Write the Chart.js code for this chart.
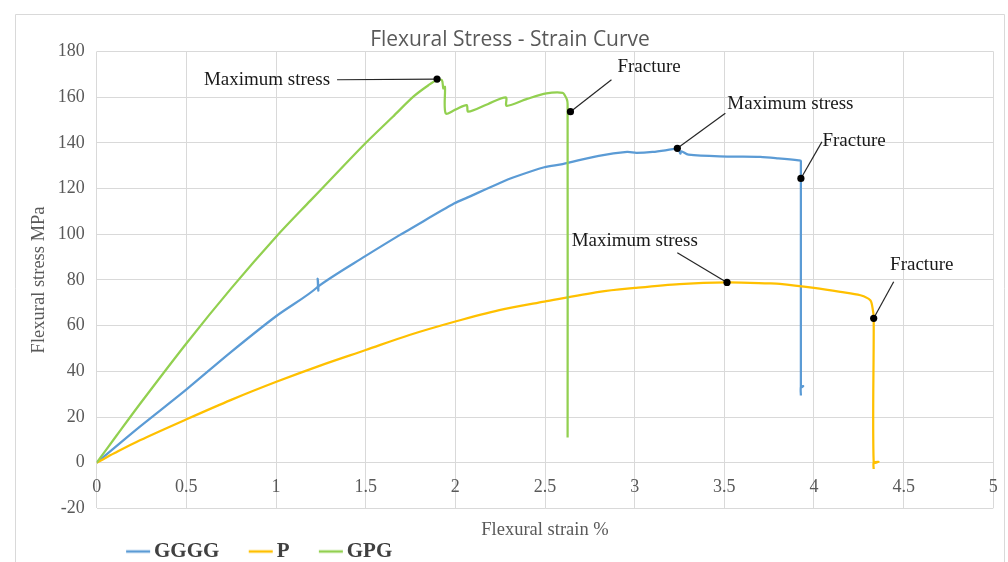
<!DOCTYPE html>
<html>
<head>
<meta charset="utf-8">
<title>Flexural Stress - Strain Curve</title>
<script src="https://cdn.jsdelivr.net/npm/chart.js@4/dist/chart.umd.min.js"></script>
<style>
  html, body { margin: 0; padding: 0; background: #ffffff; }
  canvas { display: block; }
</style>
</head>
<body>
<canvas id="chart" width="1008" height="562"></canvas>
<script>
// Flexural strain (%) and stress (MPa) readings for each laminate
const ggggStrain = [0, 0.1, 0.241, 0.501, 0.75, 1.002, 1.23, 1.232, 1.236, 1.24, 1.5, 1.689, 1.744, 1.995, 2.066, 2.245, 2.326, 2.496, 2.598, 2.8, 2.958, 3.01, 3.1, 3.238, 3.245, 3.255, 3.26, 3.3, 3.515, 3.7, 3.8, 3.915, 3.927, 3.927, 3.94, 3.927, 3.927];
const ggggStress = [0, 6.6, 15.8, 32.1, 48.5, 64.2, 76.8, 80.5, 75.3, 77.4, 90.5, 99.6, 102.1, 113.5, 116.0, 122.3, 124.9, 129.3, 130.7, 134.3, 136.0, 135.6, 136.0, 137.4, 137.2, 135.3, 136.3, 134.8, 134, 133.8, 133.2, 132.3, 132, 33, 33.5, 33.2, 29.4];

const pStrain = [0, 0.1, 0.241, 0.501, 0.75, 1.002, 1.25, 1.5, 1.744, 1.995, 2.245, 2.496, 2.802, 3.0, 3.25, 3.515, 3.75, 3.81, 4.0, 4.147, 4.259, 4.314, 4.327, 4.333, 4.333, 4.36, 4.333, 4.333];
const pStress = [0, 4.2, 9.8, 19.0, 27.5, 35.4, 42.6, 49.3, 55.9, 61.7, 66.8, 70.5, 74.8, 76.5, 78.2, 78.9, 78.5, 78.3, 76.5, 74.8, 73.3, 71.1, 67.5, 63.5, 0, 0.4, 0, -2.8];

const gpgStrain = [0, 0.111, 0.241, 0.501, 0.75, 1.002, 1.193, 1.299, 1.5, 1.65, 1.769, 1.85, 1.898, 1.925, 1.933, 1.942, 1.946, 2.0, 2.063, 2.072, 2.18, 2.282, 2.286, 2.4, 2.508, 2.599, 2.61, 2.622, 2.626, 2.626];
const gpgStress = [0, 11.9, 25.7, 52.3, 76.3, 99.0, 114.8, 123.5, 139.9, 151.3, 160.4, 165.2, 167.5, 167.4, 163.8, 164.5, 152.9, 154.5, 156.5, 153.6, 156.9, 159.9, 156.2, 159.2, 161.6, 161.9, 160.8, 159, 157, 11];

const seriesNames = ['GGGG', 'P', 'GPG'];

const xTickValues = [0, 0.5, 1, 1.5, 2, 2.5, 3, 3.5, 4, 4.5, 5];
const xTickLabels = ['0', '0.5', '1', '1.5', '2', '2.5', '3', '3.5', '4', '4.5', '5'];
const yTickValues = [-20, 0, 20, 40, 60, 80, 100, 120, 140, 160, 180];
const yTickLabels = ['-20', '0', '20', '40', '60', '80', '100', '120', '140', '160', '180'];

// Marked points on the curves: peak stress and fracture of each laminate
const markerStrain = [1.898, 2.642, 3.238, 3.927, 3.515, 4.333];
const markerStress = [167.9, 153.6, 137.6, 124.4, 78.9, 63.2];
const markerText = ['Maximum stress', 'Fracture', 'Maximum stress', 'Fracture', 'Maximum stress', 'Fracture'];

// Pixel offsets of each leader line end and label from its marker
const calloutLayout = [
  { lx: -100, ly: 0.7, tx: -107, ty: 1, align: 'right' },
  { lx: 41, ly: -32, tx: 47, ty: -45, align: 'left' },
  { lx: 48, ly: -35, tx: 50, ty: -44, align: 'left' },
  { lx: 21, ly: -36.6, tx: 21.5, ty: -37, align: 'left' },
  { lx: -49.7, ly: -29.6, tx: -155.3, ty: -41, align: 'left' },
  { lx: 20, ly: -36.6, tx: 16.4, ty: -53, align: 'left' }
];

const COLORS = { gggg: '#5B9BD5', p: '#FFC000', gpg: '#92D050' };
const GRID = '#d9d9d9';
const AXIS_TEXT = '#595959';
const SERIF = '"Liberation Serif", "Times New Roman", serif';

// Short horizontal stroke used as the legend symbol
function legendMark(color) {
  const c = document.createElement('canvas');
  c.width = 60;
  c.height = 8;
  const g = c.getContext('2d');
  g.fillStyle = color;
  g.fillRect(31, 2.75, 24, 2.5);
  return c;
}

function series(label, xs, ys, color, order) {
  return {
    label: label,
    data: xs.map((x, i) => ({ x: x, y: ys[i] })),
    borderColor: color,
    backgroundColor: color,
    borderWidth: 2.25,
    borderJoinStyle: 'round',
    pointRadius: 0,
    pointHoverRadius: 0,
    pointStyle: legendMark(color),
    tension: 0.3,
    fill: false,
    order: order
  };
}

// White background and light outer frame
const framePlugin = {
  id: 'frame',
  beforeDraw(chart) {
    const ctx = chart.ctx;
    ctx.save();
    ctx.fillStyle = '#ffffff';
    ctx.fillRect(0, 0, chart.width, chart.height);
    ctx.strokeStyle = GRID;
    ctx.lineWidth = 1;
    ctx.beginPath();
    ctx.moveTo(15.5, chart.height);
    ctx.lineTo(15.5, 14.5);
    ctx.lineTo(1004.5, 14.5);
    ctx.lineTo(1004.5, chart.height);
    ctx.stroke();
    ctx.restore();
  }
};

// Callouts: dot on the curve, leader line and label text
const calloutPlugin = {
  id: 'callouts',
  afterDatasetsDraw(chart) {
    const ctx = chart.ctx;
    const xs = chart.scales.x;
    const ys = chart.scales.y;
    ctx.save();
    markerStrain.forEach((sx, i) => {
      const px = xs.getPixelForValue(sx);
      const py = ys.getPixelForValue(markerStress[i]);
      const l = calloutLayout[i];
      ctx.strokeStyle = '#262626';
      ctx.lineWidth = 1.2;
      ctx.beginPath();
      ctx.moveTo(px, py);
      ctx.lineTo(px + l.lx, py + l.ly);
      ctx.stroke();
      ctx.fillStyle = '#000000';
      ctx.beginPath();
      ctx.arc(px, py, 3.6, 0, Math.PI * 2);
      ctx.fill();
      ctx.fillStyle = '#1a1a1a';
      ctx.font = '19px ' + SERIF;
      ctx.textAlign = l.align;
      ctx.textBaseline = 'middle';
      ctx.fillText(markerText[i], px + l.tx, py + l.ty);
    });
    ctx.restore();
  }
};

new Chart(document.getElementById('chart'), {
  type: 'line',
  data: {
    datasets: [
      series(seriesNames[0], ggggStrain, ggggStress, COLORS.gggg, 3),
      series(seriesNames[1], pStrain, pStress, COLORS.p, 2),
      series(seriesNames[2], gpgStrain, gpgStress, COLORS.gpg, 1)
    ]
  },
  options: {
    responsive: false,
    animation: false,
    devicePixelRatio: 1,
    events: [],
    layout: { padding: { left: 15, right: 3, top: 0, bottom: 0 } },
    scales: {
      x: {
        type: 'linear',
        position: 'bottom',
        min: 0,
        max: 5,
        afterBuildTicks(scale) { scale.ticks = xTickValues.map(v => ({ value: v })); },
        afterFit(scale) { scale.height = 22.6; },
        ticks: {
          font: { family: SERIF, size: 18 },
          color: AXIS_TEXT,
          mirror: true,
          padding: 10.2,
          maxRotation: 0,
          autoSkip: false,
          callback: (value, index) => xTickLabels[index]
        },
        grid: { color: GRID, lineWidth: 1, drawTicks: false },
        border: { display: false },
        title: {
          display: true,
          text: 'Flexural strain %',
          font: { family: SERIF, size: 18.5 },
          color: AXIS_TEXT,
          padding: { top: 0, bottom: -10.6 }
        }
      },
      y: {
        type: 'linear',
        position: 'left',
        min: -20,
        max: 180,
        afterBuildTicks(scale) { scale.ticks = yTickValues.map(v => ({ value: v })); },
        afterFit(scale) { scale.width = 81.7; },
        ticks: {
          font: { family: SERIF, size: 18 },
          color: AXIS_TEXT,
          padding: 12,
          callback: (value, index) => yTickLabels[index]
        },
        grid: { color: GRID, lineWidth: 1, drawTicks: false },
        border: { display: false },
        title: {
          display: true,
          text: 'Flexural stress MPa',
          font: { family: SERIF, size: 18.5 },
          color: AXIS_TEXT,
          padding: { top: 12.9, bottom: 0 }
        }
      },
      yRightMargin: {
        type: 'linear',
        position: 'right',
        display: true,
        afterFit(scale) { scale.width = 11.7; },
        ticks: { display: false },
        grid: { display: false, drawTicks: false },
        border: { display: false },
        title: { display: false }
      }
    },
    plugins: {
      title: {
        display: true,
        text: 'Flexural Stress - Strain Curve',
        font: { family: '"Open Sans", sans-serif', size: 21, weight: 'normal' },
        color: AXIS_TEXT,
        padding: { top: 27, bottom: -0.8 }
      },
      legend: {
        display: true,
        position: 'bottom',
        align: 'start',
        fullSize: false,
        maxHeight: 31,
        labels: {
          usePointStyle: true,
          pointStyleWidth: 36.8,
          padding: 10,
          color: '#404040',
          font: { family: SERIF, size: 21, weight: 'bold' },
          sort: (a, b) => a.datasetIndex - b.datasetIndex
        }
      },
      tooltip: { enabled: false }
    }
  },
  plugins: [framePlugin, calloutPlugin]
});
</script>
</body>
</html>
